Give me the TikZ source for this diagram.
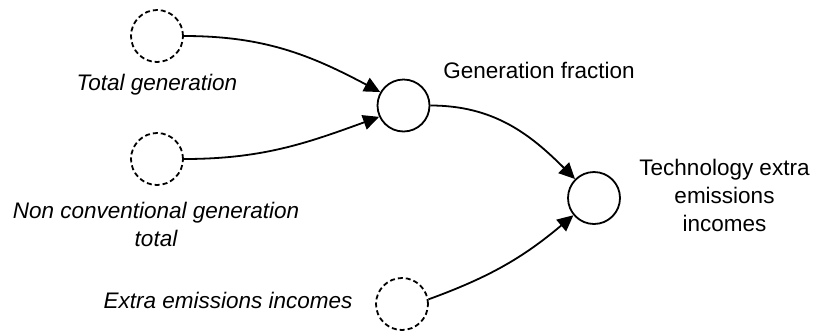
\documentclass[tikz,border=0pt]{standalone}
\usepackage{fontspec}
\setmainfont{Liberation Sans}
\usetikzlibrary{arrows.meta}
\begin{document}
\begin{tikzpicture}[x=1pt,y=-1pt,
  stock/.style={circle,draw,line width=1.8pt,minimum size=52pt,inner sep=0pt},
  ghost/.style={stock,dash pattern=on 5pt off 3pt},
  lbl/.style={font=\fontsize{22.5pt}{28pt}\selectfont,inner sep=0pt,align=center,anchor=base},
  ilbl/.style={lbl,font=\fontsize{22.5pt}{28pt}\selectfont\itshape},
  link/.style={line width=1.8pt,-{Triangle[length=16pt,width=15pt]}}]
\useasboundingbox (0,0) rectangle (814,333);
\node[ghost] (tg) at (157,36) {};
\node[ghost] (nc) at (157,159) {};
\node[stock] (gf) at (403.5,105.5) {};
\node[stock] (te) at (594,198) {};
\node[ghost] (ee) at (402,304) {};
\node[ilbl] (tgl) at (157,90) {Total generation};
\node[ilbl] (ncl) at (156,246) {Non conventional generation\\total};
\node[ilbl] (eel) at (228,308) {Extra emissions incomes};
\node[lbl] (gfl) at (539,78) {Generation fraction};
\node[lbl] (tel) at (724.5,231) {Technology extra\\emissions\\incomes};
\draw[link] (tg.east) to[out=0,in=152] (gf.150);
\draw[link] (nc.east) to[out=0,in=200] (gf.205);
\draw[link] (gf.east) to[out=0,in=135] (te.135);
\draw[link] (ee.10) to[out=20,in=220] (te.220);
\end{tikzpicture}
\end{document}
